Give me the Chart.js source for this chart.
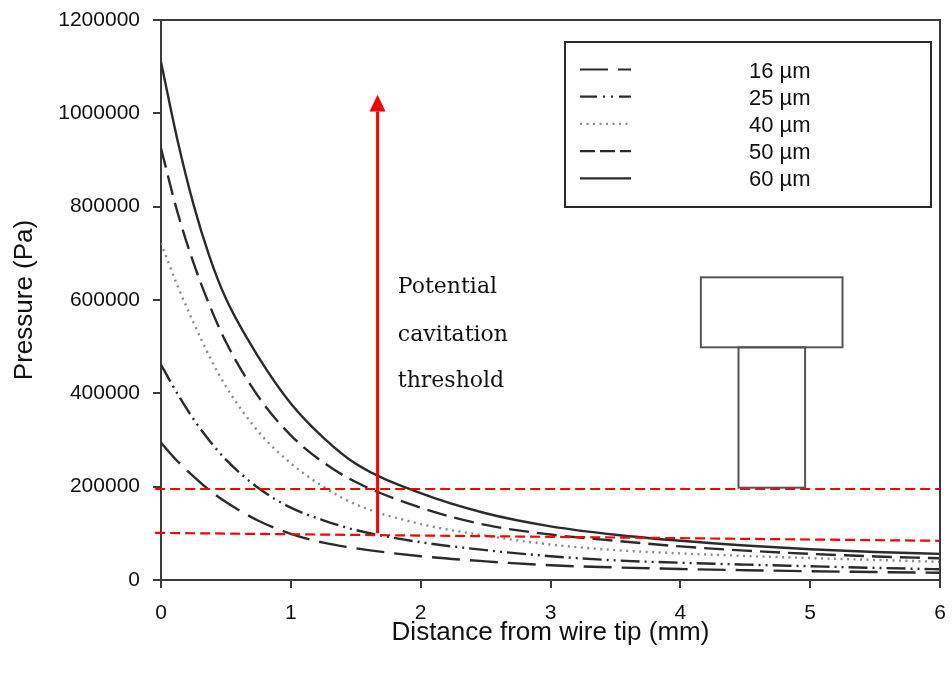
<!DOCTYPE html>
<html><head><meta charset="utf-8">
<script src="https://cdn.jsdelivr.net/npm/chart.js@4/dist/chart.umd.min.js"></script>
<style>html,body{margin:0;padding:0;background:#fff}</style>
</head><body>
<canvas id="c" width="952" height="674"></canvas>
<script>
// ---- data ----
const distances = [0,0.125,0.25,0.375,0.5,0.75,1,1.25,1.5,2,2.5,3,3.5,4,4.5,5,5.5,6];
const p16 = [294000,255000,222000,192000,167000,127000,99000,80000,68000,51000,40000,31500,27000,23500,21000,18800,17000,15500];
const p25 = [461000,400000,345000,298000,258000,197000,155000,128000,107000,81000,64000,51000,42000,37000,33000,29500,26000,23000];
const p40 = [722000,632000,552000,478000,415000,318000,250000,200000,162000,120000,95000,76000,64000,57000,51500,47000,43000,39000];
const p50 = [925000,790000,680000,588000,510000,393000,310000,252000,210000,155000,118000,97500,84000,72000,63000,56000,50500,46500];
const p60 = [1110000,945000,805000,692000,603000,478000,378000,305000,249000,186000,143000,115000,97000,84000,74000,66000,60000,56000];
const seriesLabels = ['16 µm','25 µm','40 µm','50 µm','60 µm'];
const thresholdX = [-0.045, 6];
const thresholdUpper = [195000, 195000];
const thresholdLower = [101000, 84000];
const arrowX = 1.668;
const arrowFrom = 100000;
const arrowTo = 1040000;
const noteLines = ['Potential','cavitation','threshold'];
const noteX = 1.824;
const noteY = [615000, 512000, 413600];
// wire-tip schematic (data units)
const headX = [4.158, 5.249], headY = [498600, 648600];
const stemX = [4.448, 4.961], stemY = [197800, 498600];

// ---- styles ----
const INK = '#2b2b2b';
const styles = [
  {color: INK, dash: [28,10], legendDash: [28,10]},
  {color: INK, dash: [19,5,2,5,2,5], legendDash: [17,6,2,6,2,6]},
  {color: '#8a8a8a', dash: [2,4.5], legendDash: [2,4.5]},
  {color: INK, dash: [20,8], legendDash: [15,5]},
  {color: INK, dash: [], legendDash: []}
];
const seriesValues = [p16, p25, p40, p50, p60];
const toPts = (xs, ys) => xs.map((x,i) => ({x, y: ys[i]}));

const datasets = [];
datasets.push({label:'upper', data: toPts(thresholdX, thresholdUpper), borderColor:'#ff0000', borderWidth:2.2, borderDash:[10,5], pointRadius:0, clip:false, order:0});
datasets.push({label:'lower', data: toPts(thresholdX, thresholdLower), borderColor:'#ff0000', borderWidth:2.2, borderDash:[10,5], pointRadius:0, clip:false, order:0});
datasets.push({label:'arrow', data: toPts([arrowX, arrowX], [arrowFrom, arrowTo - 36000]), borderColor:'#ff0000', borderWidth:3, pointRadius:0, order:0});
seriesValues.forEach((vals, i) => {
  datasets.push({
    label: seriesLabels[i], data: toPts(distances, vals),
    borderColor: styles[i].color, borderWidth: 2.4, borderDash: styles[i].dash,
    pointRadius: 0, cubicInterpolationMode: 'monotone', fill: false, order: 1
  });
});

const decor = {
  id: 'decor',
  afterDatasetsDraw(chart) {
    const {ctx, chartArea: a, scales: {x, y}} = chart;
    ctx.save();
    // top and right frame
    ctx.strokeStyle = '#3a3a3a'; ctx.lineWidth = 2; ctx.setLineDash([]);
    ctx.beginPath();
    ctx.moveTo(a.left, a.top); ctx.lineTo(a.right, a.top); ctx.lineTo(a.right, a.bottom);
    ctx.stroke();
    // arrow head
    const ax = x.getPixelForValue(arrowX), tip = y.getPixelForValue(arrowTo), base = y.getPixelForValue(arrowTo - 36000);
    ctx.fillStyle = '#ff0000';
    ctx.beginPath(); ctx.moveTo(ax, tip); ctx.lineTo(ax - 8, base); ctx.lineTo(ax + 8, base); ctx.closePath(); ctx.fill();
    // note text
    ctx.fillStyle = '#111'; ctx.font = "22px 'DejaVu Serif'"; ctx.textBaseline = 'alphabetic'; ctx.textAlign = 'left';
    noteLines.forEach((t, i) => ctx.fillText(t, x.getPixelForValue(noteX), y.getPixelForValue(noteY[i])));
    // wire tip schematic
    ctx.strokeStyle = '#555'; ctx.lineWidth = 2;
    const rect = (xs, ys) => {
      const l = x.getPixelForValue(xs[0]), r = x.getPixelForValue(xs[1]);
      const t = y.getPixelForValue(ys[1]), b = y.getPixelForValue(ys[0]);
      ctx.strokeRect(l, t, r - l, b - t);
    };
    rect(headX, headY); rect(stemX, stemY);
    // legend
    const bx = 565, by = 42, bw = 366, bh = 165;
    ctx.fillStyle = '#fff'; ctx.fillRect(bx, by, bw, bh);
    ctx.strokeStyle = '#2b2b2b'; ctx.lineWidth = 2; ctx.strokeRect(bx, by, bw, bh);
    ctx.font = "22px 'Liberation Sans', Arial"; ctx.textBaseline = 'middle';
    seriesLabels.forEach((lab, i) => {
      const ly = 69.5 + i * 27.2;
      ctx.strokeStyle = styles[i].color; ctx.lineWidth = 2.2; ctx.setLineDash(styles[i].legendDash);
      ctx.beginPath(); ctx.moveTo(580, ly); ctx.lineTo(631, ly); ctx.stroke();
      ctx.setLineDash([]);
      ctx.fillStyle = '#111'; ctx.fillText(lab, 749, ly + 2);
    });
    ctx.restore();
  }
};

new Chart(document.getElementById('c'), {
  type: 'line',
  data: {datasets},
  options: {
    responsive: false, animation: false,
    layout: {padding: {top: 20, right: 12, left: 0, bottom: 0}},
    plugins: {legend: {display: false}, tooltip: {enabled: false}},
    scales: {
      x: {
        type: 'linear', min: 0, max: 6,
        ticks: {stepSize: 1, color: '#111', font: {family: "'Liberation Sans', Arial", size: 21}, padding: 13, maxRotation: 0},
        grid: {drawOnChartArea: false, drawTicks: true, tickLength: 8, color: '#3a3a3a', lineWidth: 2},
        border: {display: true, color: '#3a3a3a', width: 2},
        title: {display: true, text: 'Distance from wire tip (mm)', color: '#111', font: {family: "'Liberation Sans', Arial", size: 26}, padding: {top: 0, bottom: 26}},
        afterFit: s => { s.height = 94; s.paddingLeft = 0; s.paddingRight = 0; }
      },
      y: {
        type: 'linear', min: 0, max: 1200000,
        ticks: {stepSize: 200000, color: '#111', font: {family: "'Liberation Sans', Arial", size: 21}, padding: 13, callback: v => String(v)},
        grid: {drawOnChartArea: false, drawTicks: true, tickLength: 8, color: '#3a3a3a', lineWidth: 2},
        border: {display: true, color: '#3a3a3a', width: 2},
        title: {display: true, text: 'Pressure (Pa)', color: '#111', font: {family: "'Liberation Sans', Arial", size: 26}, padding: {top: 9, bottom: 0}},
        afterFit: s => { s.width = 161; s.paddingTop = 0; s.paddingBottom = 0; }
      }
    }
  },
  plugins: [decor]
});
</script>
</body></html>
